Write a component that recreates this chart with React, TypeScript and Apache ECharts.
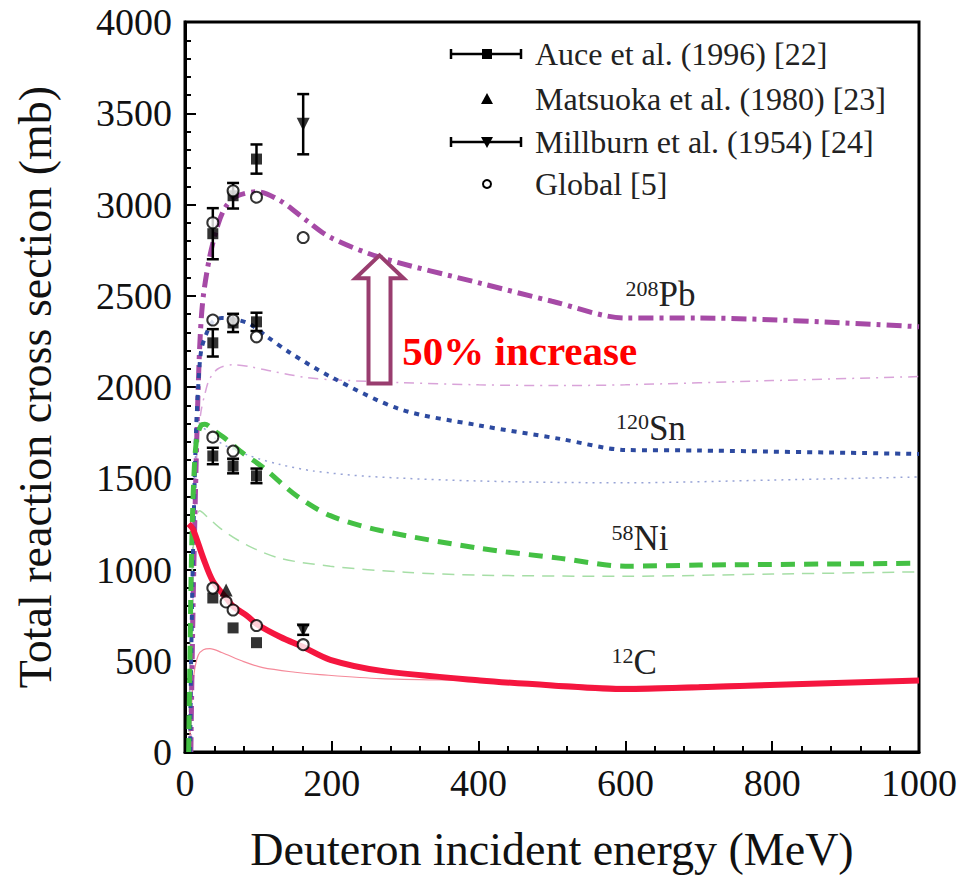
import React, { useEffect, useRef } from "react";
import * as echarts from "echarts";

// ---------- data ----------
// Theory curves: [energy MeV, cross section mb]
const pbThick: number[][] = [[8,0],[9,300],[11,800],[13,1200],[15,1550],[18,2000],[21,2300],[25,2500],[34,2720],[45,2890],[55,2985],[70,3045],[98,3070],[130,3020],[166,2911],[198,2820],[266,2710],[402,2569],[500,2470],[600,2378],[700,2378],[1000,2330]];
const pbThin: number[][] = [[8,0],[10,600],[13,1300],[17,1700],[22,1870],[27,1960],[33,2040],[45,2100],[65,2122],[90,2110],[120,2085],[165,2052],[200,2040],[293,2024],[400,2012],[511,2008],[600,2012],[800,2035],[1000,2057]];
const snThick: number[][] = [[7,0],[8,400],[10,900],[12,1300],[15,1750],[18,2000],[22,2200],[29,2290],[38,2360],[50,2378],[85,2351],[112,2275],[143,2188],[198,2057],[293,1878],[400,1790],[512,1715],[600,1655],[700,1652],[1000,1633]];
const snThin: number[][] = [[7,0],[9,700],[12,1400],[16,1700],[22,1780],[30,1760],[50,1690],[89,1622],[130,1575],[175,1540],[250,1510],[400,1485],[600,1475],[800,1490],[1000,1507]];
const niThick: number[][] = [[5,0],[7,600],[9,1100],[12,1500],[16,1720],[22,1790],[27,1796],[40,1760],[56,1714],[75,1649],[106,1560],[152,1404],[198,1295],[266,1214],[402,1116],[512,1061],[600,1018],[700,1024],[1000,1034]];
const niThin: number[][] = [[5,0],[7,500],[10,1000],[14,1250],[20,1322],[30,1290],[50,1220],[85,1132],[130,1061],[198,1018],[300,985],[402,969],[600,963],[800,975],[1000,987]];
const cThick: number[][] = [[5,1250],[11,1220],[25,1061],[38,936],[57,840],[65,800],[85,745],[98,700],[130,630],[161,575],[198,505],[266,446],[402,392],[500,365],[600,345],[700,355],[1000,392]];
const cThin: number[][] = [[6,0],[8,200],[12,420],[18,530],[25,560],[34,566],[50,545],[80,495],[106,462],[150,437],[184,424],[266,402],[400,390],[500,376],[600,360],[800,378],[1000,392]];

// Experimental data
const auceE = [37.9, 65.5, 97.4];
const aucePb = [2840, 3048, 3249];
const aucePbErr = [140, 70, 80];
const auceSn = [2242, 2351, 2357];
const auceSnErr = [75, 50, 50];
const auceNi = [1622, 1567, 1513];
const auceNiErr = [45, 40, 40];
const auceC = [844, 680, 599];

const matsuokaE = [56];
const matsuokaC = [887];

const millburnE = [161, 161];
const millburnVal = [3440, 669];
const millburnErr = [165, 27];

const globalPb: number[][] = [[37.9,2900],[65.5,3075],[97.4,3040],[161,2819]];
const globalSn: number[][] = [[37.9,2367],[65.5,2367],[97.4,2275]];
const globalNi: number[][] = [[37.9,1725],[65.5,1649]];
const globalC: number[][] = [[37.9,898],[56,822],[65.5,778],[97.4,693],[161,588]];

const legendNames = ["Auce et al. (1996) [22]", "Matsuoka et al. (1980) [23]", "Millburn et al. (1954) [24]", "Global [5]"];

// annotation anchors in data space
const nucleusLabels = [
  { mass: "208", sym: "Pb", at: [645, 2439] },
  { mass: "120", sym: "Sn", at: [632, 1708] },
  { mass: "58", sym: "Ni", at: [611, 1102] },
  { mass: "12", sym: "C", at: [611, 426] },
];
const arrowE = 265;
const arrowFrom = 2019;
const arrowHeadBase = 2596;
const arrowTo = 2721;
const increaseText = "50% increase";
const increaseAt = [296, 2199];

const SERIF = "Liberation Serif";

function errRender(_p: any, api: any) {
  const x = api.value(0), y = api.value(1), e = api.value(2);
  const t = api.coord([x, y + e]);
  const b = api.coord([x, y - e]);
  const cap = 6;
  const style = { stroke: "#000", lineWidth: 2.5 };
  return {
    type: "group",
    children: [
      { type: "line", shape: { x1: t[0], y1: t[1], x2: b[0], y2: b[1] }, style },
      { type: "line", shape: { x1: t[0] - cap, y1: t[1], x2: t[0] + cap, y2: t[1] }, style },
      { type: "line", shape: { x1: b[0] - cap, y1: b[1], x2: b[0] + cap, y2: b[1] }, style },
    ],
  };
}

export default function App() {
  const ref = useRef<HTMLDivElement>(null);
  useEffect(() => {
    if (!ref.current) return;
    const chart = echarts.init(ref.current, undefined, { renderer: "svg" });

    const line = (data: number[][], color: string, width: number, type: any) => ({
      type: "line",
      data,
      showSymbol: false,
      symbol: "none",
      smooth: 0.3,
      lineStyle: { color, width, type, cap: "butt" },
      z: 2,
    });

    const errData: number[][] = [];
    auceE.forEach((e, i) => {
      errData.push([e, aucePb[i], aucePbErr[i]]);
      errData.push([e, auceSn[i], auceSnErr[i]]);
      errData.push([e, auceNi[i], auceNiErr[i]]);
    });
    millburnE.forEach((e, i) => errData.push([e, millburnVal[i], millburnErr[i]]));

    const auceData: number[][] = [];
    auceE.forEach((e, i) => {
      auceData.push([e, aucePb[i]], [e, auceSn[i]], [e, auceNi[i]], [e, auceC[i]]);
    });

    const axisCommon = {
      axisLine: { show: true, lineStyle: { color: "#000", width: 3 } },
      axisTick: { show: true, inside: true, length: 11, lineStyle: { color: "#000", width: 2 } },
      minorTick: { show: true, splitNumber: 5, length: 6, lineStyle: { color: "#000", width: 2 } },
      splitLine: { show: false },
      nameTextStyle: { fontFamily: SERIF, fontSize: 46, color: "#111" },
    };

    const option: any = {
      animation: false,
      backgroundColor: "#fff",
      grid: { left: 185, right: 45, top: 22, bottom: 122, show: true, borderColor: "#000", borderWidth: 3, backgroundColor: "transparent" },
      xAxis: {
        type: "value", min: 0, max: 1000, interval: 200,
        name: "Deuteron incident energy (MeV)", nameLocation: "middle", nameGap: 74,
        ...axisCommon,
        axisLabel: { fontFamily: SERIF, fontSize: 38, color: "#111", margin: 12, formatter: (v: number) => String(v) },
      },
      yAxis: {
        type: "value", min: 0, max: 4000, interval: 500,
        name: "Total reaction cross section (mb)", nameLocation: "middle", nameGap: 127,
        ...axisCommon,
        axisLabel: { fontFamily: SERIF, fontSize: 38, color: "#111", margin: 13, formatter: (v: number) => String(v) },
      },
      series: [
        line(pbThin, "#d9a3d9", 1.5, [10, 6, 2, 6]),
        line(snThin, "#97a3d6", 1.5, [2, 5]),
        line(niThin, "#a6dea6", 1.5, [12, 8]),
        line(cThin, "#f58a9a", 1.2, "solid"),
        line(pbThick, "#a64aa6", 5, [15, 6, 4, 6]),
        line(snThick, "#2d4aa0", 4, [5, 6]),
        line(niThick, "#44c044", 5, [14, 9]),
        line(cThick, "#f5163f", 6, "solid"),
        {
          type: "custom", name: "errors", renderItem: errRender, data: errData,
          encode: { x: 0, y: 1 }, z: 5, silent: true,
        },
        {
          type: "scatter", name: legendNames[0], data: auceData, symbol: "rect", symbolSize: 11,
          itemStyle: { color: "#000" }, z: 6,
        },
        {
          type: "scatter", name: legendNames[1], data: matsuokaE.map((e, i) => [e, matsuokaC[i]]),
          symbol: "triangle", symbolSize: 13, itemStyle: { color: "#000" }, z: 6,
        },
        {
          type: "scatter", name: legendNames[2], data: millburnE.map((e, i) => [e, millburnVal[i]]),
          symbol: "triangle", symbolRotate: 180, symbolSize: 13, itemStyle: { color: "#000" }, z: 6,
        },
        {
          type: "scatter", name: legendNames[3], data: [...globalPb, ...globalSn, ...globalNi, ...globalC],
          symbol: "circle", symbolSize: 11, itemStyle: { color: "#fff", borderColor: "#000", borderWidth: 2 }, z: 7,
        },
      ],
    };
    chart.setOption(option);

    const cp = (p: number[]) => chart.convertToPixel({ gridIndex: 0 }, p) as number[];
    const g: any[] = [];
    const txt = (x: number, y: number, text: string, size: number, fill: string, align: string, weight = "normal") => ({
      type: "text", x, y, z: 11,
      style: { text, fontFamily: SERIF, fontSize: size, fontWeight: weight, fill, textAlign: align, textVerticalAlign: "middle" },
    });

    // legend
    const rows = [54, 99, 142, 184];
    const sx = 487;
    const lst = { stroke: "#000", lineWidth: 2.5 };
    [0, 2].forEach((k) => {
      const y = rows[k];
      g.push({ type: "line", shape: { x1: 451, y1: y, x2: 521, y2: y }, style: lst, z: 10 });
      g.push({ type: "line", shape: { x1: 451, y1: y - 5, x2: 451, y2: y + 5 }, style: lst, z: 10 });
      g.push({ type: "line", shape: { x1: 521, y1: y - 5, x2: 521, y2: y + 5 }, style: lst, z: 10 });
    });
    g.push({ type: "rect", shape: { x: sx - 5, y: rows[0] - 5, width: 10, height: 10 }, style: { fill: "#000" }, z: 11 });
    g.push({ type: "polygon", shape: { points: [[sx, rows[1] - 6], [sx + 6, rows[1] + 5], [sx - 6, rows[1] + 5]] }, style: { fill: "#000" }, z: 11 });
    g.push({ type: "polygon", shape: { points: [[sx, rows[2] + 6], [sx + 6, rows[2] - 5], [sx - 6, rows[2] - 5]] }, style: { fill: "#000" }, z: 11 });
    g.push({ type: "circle", shape: { cx: sx, cy: rows[3], r: 4 }, style: { fill: "#fff", stroke: "#000", lineWidth: 2 }, z: 11 });
    legendNames.forEach((n, i) => g.push(txt(535, rows[i], n, 32, "#222", "left")));

    // nucleus labels
    nucleusLabels.forEach((l) => {
      const [px, py] = cp(l.at);
      g.push(txt(px, py - 12, l.sym, 35, "#222", "left"));
      g.push(txt(px, py - 18.5, l.mass, 22, "#222", "right"));
    });

    // arrow
    const tip = cp([arrowE, arrowTo]);
    const hb = cp([arrowE, arrowHeadBase]);
    const bt = cp([arrowE, arrowFrom]);
    const tx = tip[0];
    g.push({
      type: "polygon",
      shape: { points: [[tx, tip[1]], [tx + 24, hb[1]], [tx + 11, hb[1]], [tx + 11, bt[1]], [tx - 11, bt[1]], [tx - 11, hb[1]], [tx - 24, hb[1]]] },
      style: { fill: "#fff", stroke: "#993d6f", lineWidth: 4, lineJoin: "miter" },
      z: 12,
    });
    const ip = cp(increaseAt);
    g.push(txt(ip[0], ip[1], increaseText, 41, "#ff0000", "left", "bold"));

    chart.setOption({ graphic: g });

    return () => chart.dispose();
  }, []);
  return <div ref={ref} style={{ position: "fixed", left: 0, top: 0, width: 964, height: 877, background: "#fff" }} />;
}
